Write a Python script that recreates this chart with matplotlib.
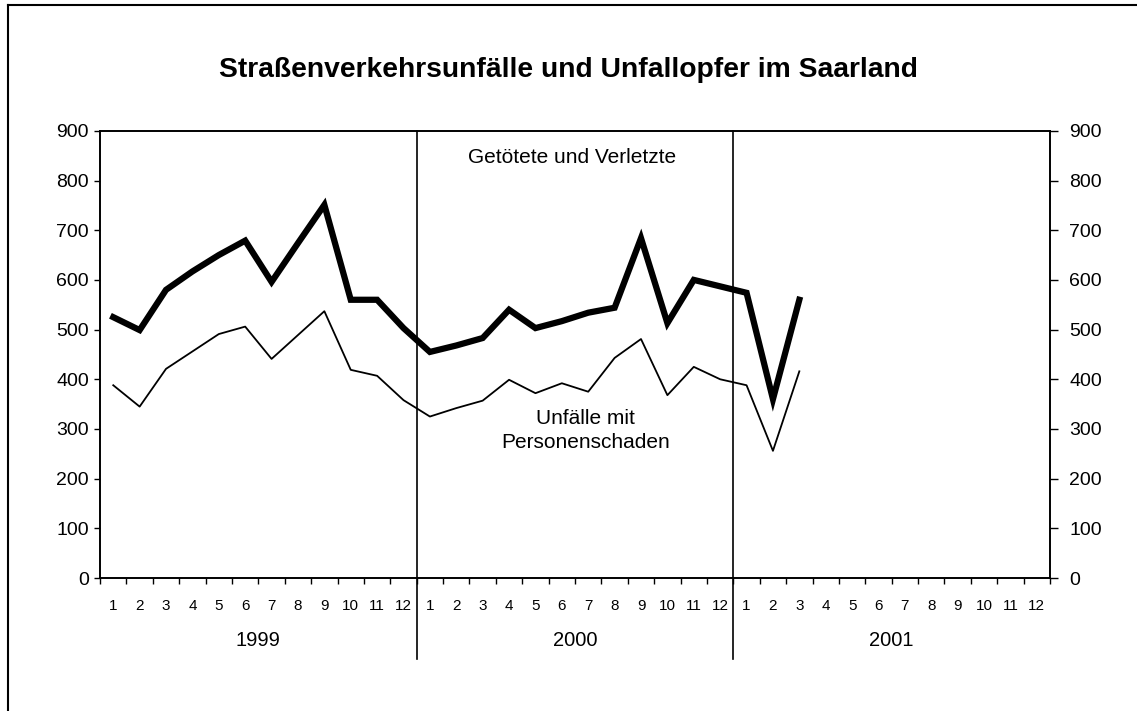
import numpy as np
import matplotlib
matplotlib.use("Agg")
import matplotlib.pyplot as plt
from matplotlib.lines import Line2D
import matplotlib.transforms as mtransforms

plt.rcParams['font.family'] = ['Liberation Sans', 'DejaVu Sans']

# Monatswerte Jan 1999 - Mrz 2001
years = ["1999", "2000", "2001"]
month_labels = [str(m) for m in range(1, 13)] * 3

getoetete_verletzte = [525, 499, 580, 617, 650, 679, 596, 674, 751, 560, 560, 503,
                       455, 468, 483, 540, 503, 517, 534, 544, 684, 513, 600, 587,
                       574, 360, 560]
unfaelle_personenschaden = [388, 345, 421, 456, 491, 506, 441, 489, 537, 419, 407, 358,
                            325, 342, 357, 399, 372, 392, 375, 443, 481, 368, 425, 400,
                            388, 256, 416]

months = np.arange(1, len(getoetete_verletzte) + 1)

fig = plt.figure(figsize=(11.37, 7.11), dpi=100)
ax = fig.add_axes([0.088, 0.187, 0.8355, 0.629])

ax.plot(months, getoetete_verletzte, color='black', lw=4.5, solid_joinstyle='miter')
ax.plot(months, unfaelle_personenschaden, color='black', lw=1.3)

ax.set_xlim(0.5, 36.5)
ax.set_ylim(0, 900)
ax.set_yticks(np.arange(0, 901, 100))
ax.tick_params(axis='y', direction='out', length=4, width=1, labelsize=14, pad=4)

# rechte Achse mit gleicher Skala
ax2 = ax.twinx()
ax2.set_ylim(ax.get_ylim())
ax2.set_yticks(np.arange(0, 901, 100))
ax2.tick_params(axis='y', direction='out', length=6, width=1, labelsize=14, pad=8)

# Monatsbeschriftung mittig, Striche an den Grenzen
ax.set_xticks(np.arange(1, 37))
ax.set_xticklabels(month_labels)
ax.set_xticks(np.arange(0.5, 37), minor=True)
ax.tick_params(axis='x', which='major', length=0, labelsize=11, pad=15)
ax.tick_params(axis='x', which='minor', direction='out', length=4, width=1)

for a in (ax, ax2):
    for sp in a.spines.values():
        sp.set_linewidth(1.2)

# Jahrestrenner und Jahresbeschriftung
trans = mtransforms.blended_transform_factory(ax.transData, ax.transAxes)
for xb in [12.5, 24.5]:
    ax.add_line(Line2D([xb, xb], [1, -0.18], transform=trans, color='black',
                       lw=1.2, clip_on=False))
for i, yr in enumerate(years):
    ax.text(6.5 + 12 * i, -0.14, yr, transform=trans, ha='center', va='center',
            fontsize=14.5)

ax.text(18.4, 0.94, "Getötete und Verletzte", transform=trans, ha='center',
        va='center', fontsize=15)
ax.text(18.9, 0.33, "Unfälle mit\nPersonenschaden", transform=trans,
        ha='center', va='center', fontsize=15, linespacing=1.3)

fig.text(0.5, 0.902, "Straßenverkehrsunfälle und Unfallopfer im Saarland",
         ha='center', va='center', fontsize=20.3, fontweight='bold')

# Seitenrahmen links und oben
fig.add_artist(Line2D([0.007, 0.007], [0, 0.993], color='black', lw=1.5))
fig.add_artist(Line2D([0.007, 1.0], [0.993, 0.993], color='black', lw=1.5))

fig.savefig("out.png", dpi=100)
